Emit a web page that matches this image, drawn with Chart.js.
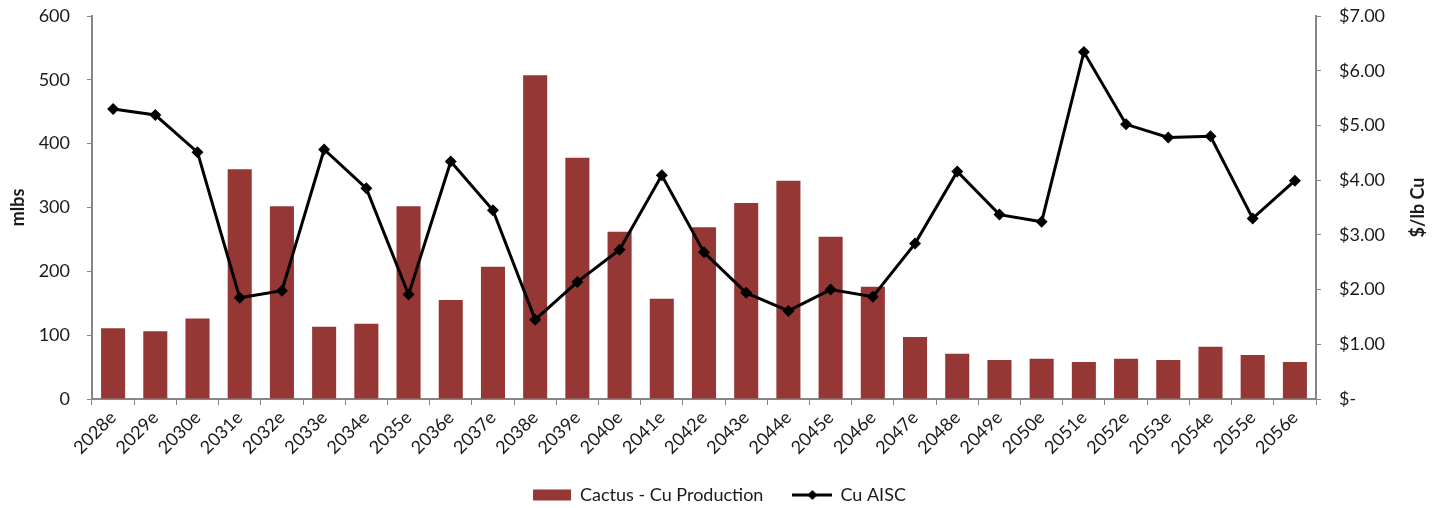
<!DOCTYPE html>
<html>
<head>
<meta charset="utf-8">
<script src="https://cdn.jsdelivr.net/npm/chart.js@4/dist/chart.umd.min.js"></script>
<style>
  html, body { margin: 0; padding: 0; background: #fff; }
  #wrap { width: 1439px; height: 508px; }
</style>
</head>
<body>
<div id="wrap"><canvas id="chart" width="1439" height="508"></canvas></div>
<script>
const years = ['2028e','2029e','2030e','2031e','2032e','2033e','2034e','2035e','2036e','2037e',
  '2038e','2039e','2040e','2041e','2042e','2043e','2044e','2045e','2046e','2047e',
  '2048e','2049e','2050e','2051e','2052e','2053e','2054e','2055e','2056e'];

// mlbs copper
const production = [111, 106, 126, 360, 302, 113, 118, 302, 155, 207,
  507, 378, 262, 157, 269, 307, 342, 254, 176, 97,
  71, 61, 63, 58, 63, 61, 82, 69, 58];

// $/lb Cu
const aisc = [5.30, 5.19, 4.51, 1.85, 1.98, 4.56, 3.85, 1.91, 4.34, 3.45,
  1.45, 2.14, 2.73, 4.09, 2.68, 1.94, 1.61, 2.00, 1.87, 2.84,
  4.16, 3.37, 3.24, 6.34, 5.02, 4.78, 4.80, 3.30, 3.99];

const barColor = '#953735';
const axisColor = '#868686';
const textColor = '#1a1a1a';
const fontFamily = 'Lato, "Open Sans", sans-serif';
const fontSize = 18;

// legend icon for the line series: line with a diamond in the middle
const lineIcon = document.createElement('canvas');
lineIcon.width = 40;
lineIcon.height = 12;
(function () {
  const c = lineIcon.getContext('2d');
  c.strokeStyle = '#000';
  c.lineWidth = 3;
  c.beginPath();
  c.moveTo(0, 6);
  c.lineTo(40, 6);
  c.stroke();
  c.fillStyle = '#000';
  c.beginPath();
  c.moveTo(20, 1);
  c.lineTo(25, 6);
  c.lineTo(20, 11);
  c.lineTo(15, 6);
  c.closePath();
  c.fill();
})();

// right axis title reads bottom-to-top like the left one
const rightTitle = {
  id: 'rightTitle',
  afterDraw(chart) {
    const ctx = chart.ctx;
    ctx.save();
    ctx.translate(1418, (chart.chartArea.top + chart.chartArea.bottom) / 2);
    ctx.rotate(-Math.PI / 2);
    ctx.font = 'bold ' + fontSize + 'px ' + fontFamily;
    ctx.fillStyle = textColor;
    ctx.textAlign = 'center';
    ctx.textBaseline = 'middle';
    ctx.fillText('$/lb Cu', 0, 0);
    ctx.restore();
  }
};

new Chart(document.getElementById('chart'), {
  data: {
    labels: years,
    datasets: [
      {
        type: 'bar',
        label: 'Cactus - Cu Production',
        data: production,
        backgroundColor: barColor,
        borderWidth: 0,
        yAxisID: 'y',
        order: 1,
        categoryPercentage: 1,
        barPercentage: 0.57
      },
      {
        type: 'line',
        label: 'Cu AISC',
        data: aisc,
        borderColor: '#000',
        backgroundColor: '#000',
        borderWidth: 3,
        pointStyle: 'rectRot',
        pointRadius: 6,
        pointBackgroundColor: '#000',
        pointBorderColor: '#000',
        pointBorderWidth: 0,
        tension: 0,
        yAxisID: 'y1',
        order: 0
      }
    ]
  },
  options: {
    responsive: false,
    animation: false,
    layout: { padding: { top: 16, bottom: -6, left: 0, right: 0 } },
    plugins: {
      tooltip: { enabled: false },
      legend: {
        position: 'bottom',
        labels: {
          color: textColor,
          font: { family: fontFamily, size: fontSize },
          usePointStyle: true,
          pointStyleWidth: 38,
          boxHeight: 11,
          padding: 30,
          sort: (a, b) => a.datasetIndex - b.datasetIndex,
          generateLabels(chart) {
            const items = Chart.defaults.plugins.legend.labels.generateLabels(chart);
            items.forEach(it => {
              if (it.datasetIndex === 0) {
                it.pointStyle = 'rect';
                it.lineWidth = 0;
              } else {
                it.pointStyle = lineIcon;
              }
            });
            return items;
          }
        }
      }
    },
    scales: {
      x: {
        offset: true,
        grid: {
          offset: true,
          drawOnChartArea: false,
          drawTicks: true,
          tickLength: 6,
          color: axisColor
        },
        border: { color: axisColor, width: 2 },
        ticks: {
          color: textColor,
          font: { family: fontFamily, size: fontSize },
          minRotation: 45,
          maxRotation: 45,
          autoSkip: false,
          padding: 2
        },
        afterFit(axis) {
          axis.height = 57;
          axis.paddingLeft = 0;
          axis.paddingRight = 0;
        }
      },
      y: {
        position: 'left',
        min: 0,
        max: 600,
        grid: {
          drawOnChartArea: false,
          drawTicks: true,
          tickLength: 5,
          color: axisColor
        },
        border: { color: axisColor, width: 2 },
        ticks: {
          stepSize: 100,
          color: textColor,
          font: { family: fontFamily, size: fontSize },
          padding: 17
        },
        title: {
          display: true,
          text: 'mlbs',
          color: textColor,
          font: { family: fontFamily, size: fontSize, weight: 'bold' },
          padding: { top: 7, bottom: 0 }
        },
        afterFit(axis) {
          axis.width = 92;
          axis.paddingTop = 0;
          axis.paddingBottom = 0;
        }
      },
      y1: {
        position: 'right',
        min: 0,
        max: 7,
        grid: {
          drawOnChartArea: false,
          drawTicks: true,
          tickLength: 5,
          color: axisColor
        },
        border: { color: axisColor, width: 2 },
        ticks: {
          stepSize: 1,
          color: textColor,
          font: { family: fontFamily, size: fontSize },
          padding: 18,
          callback: v => v === 0 ? '$-' : '$' + v.toFixed(2)
        },
        afterFit(axis) {
          axis.width = 123;
          axis.paddingTop = 0;
          axis.paddingBottom = 0;
        }
      }
    }
  },
  plugins: [rightTitle]
});
</script>
</body>
</html>
